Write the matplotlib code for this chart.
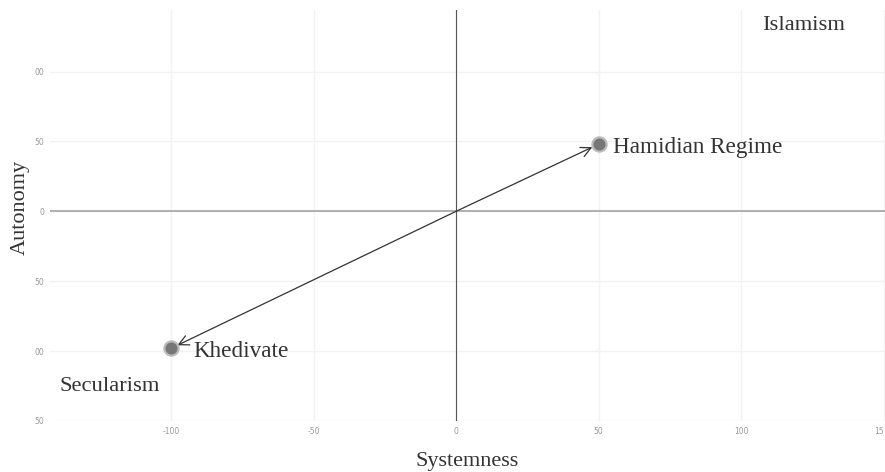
import matplotlib.pyplot as plt
import numpy as np

# Data
names = ["Hamidian Regime", "Khedivate"]
systemness = [50, -100]
autonomy = [48, -98]

x_ticks = [-100, -50, 0, 50, 100, 150]
x_tick_labels = ["-100", "-50", "0", "50", "100", "15"]
y_ticks = [100, 50, 0, -50, -100, -150]
y_tick_labels = ["00", "50", "0", "50", "00", "50"]

quadrants = ["Islamism", "Secularism"]
quad_x = [121.8, -121.5]
quad_y = [133, -125]

serif = ["Liberation Serif", "DejaVu Serif"]

fig = plt.figure(figsize=(8.85, 4.72), dpi=100)
ax = fig.add_axes([50 / 885, 1 - 421 / 472, 835 / 885, 411 / 472])
ax.set_xlim(-142.5, 150.5)
ax.set_ylim(-150, 144)

# Grid
for s in ax.spines.values():
    s.set_visible(False)
ax.set_xticks(x_ticks)
ax.set_xticklabels(x_tick_labels)
ax.set_yticks(y_ticks)
ax.set_yticklabels(y_tick_labels)
ax.tick_params(length=0, labelsize=5.5, labelcolor="#999999", pad=4)
ax.get_xticklabels()[-1].set_ha("right")
ax.grid(True, color="#f2f2f2", linewidth=1)
ax.set_axisbelow(True)

# Zero lines
ax.axhline(0, color="#aaaaaa", linewidth=1.3, zorder=1)
ax.axvline(0, color="#555555", linewidth=0.8, zorder=1)

# Arrows from origin to each point
for x, y in zip(systemness, autonomy):
    ax.annotate("", xy=(x, y), xytext=(0, 0),
                arrowprops=dict(arrowstyle="->", color="#333333", lw=0.9,
                                shrinkA=0, shrinkB=5, mutation_scale=18),
                zorder=3)

# Points with halo
ax.scatter(systemness, autonomy, s=140, color="#bbbbbb", zorder=4, linewidths=0)
ax.scatter(systemness, autonomy, s=75, color="#777777", zorder=5, linewidths=0)

label_dx = [5, 7.8]
for x, y, n, dx in zip(systemness, autonomy, names, label_dx):
    ax.text(x + dx, y - 2.5, n, family=serif, fontsize=16.7, color="#333333",
            ha="left", va="center", zorder=6)

for x, y, q in zip(quad_x, quad_y, quadrants):
    ax.text(x, y, q, family=serif, fontsize=16.2, color="#333333",
            ha="center", va="center")

ax.set_xlabel("Systemness", family=serif, fontsize=16, color="#333333", labelpad=12)
ax.set_ylabel("Autonomy", family=serif, fontsize=16, color="#333333")
ax.yaxis.set_label_coords(-0.024, 0.52)

fig.savefig("out.png", dpi=100)
